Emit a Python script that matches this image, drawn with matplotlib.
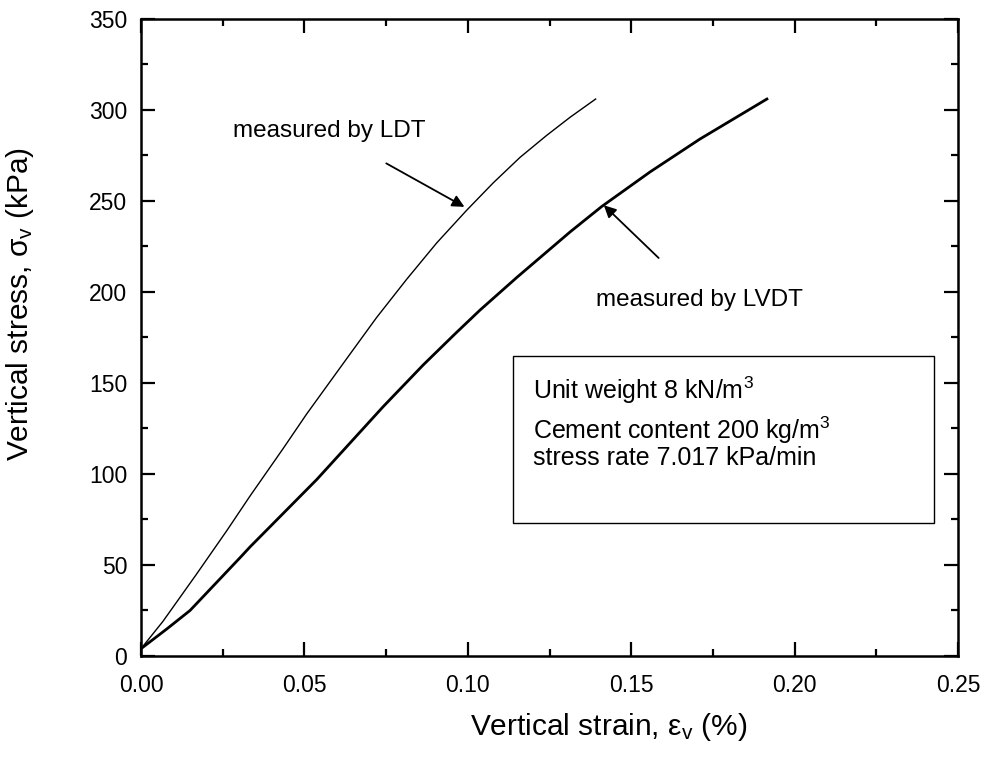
import matplotlib
matplotlib.use('Agg')
import matplotlib.pyplot as plt
from matplotlib.ticker import MultipleLocator, FormatStrFormatter

plt.rcParams['font.family'] = ['Liberation Sans', 'DejaVu Sans']
plt.rcParams['mathtext.fontset'] = 'custom'
plt.rcParams['mathtext.rm'] = 'Liberation Sans'
plt.rcParams['mathtext.it'] = 'Liberation Sans:italic'

# strain (%) / stress (kPa)
ldt_strain = [0.0, 0.0067, 0.017, 0.0263, 0.0334, 0.0435, 0.0507, 0.0640, 0.0721,
              0.0813, 0.0905, 0.0997, 0.1078, 0.1160, 0.1241, 0.1313, 0.1391]
ldt_stress = [4, 19, 45, 69, 88, 114, 133, 166, 186,
              207, 227, 245, 260, 274, 286, 296, 306]

lvdt_strain = [0.0, 0.008, 0.015, 0.0303, 0.0334, 0.0538, 0.0741, 0.0864, 0.0961,
               0.1037, 0.115, 0.1313, 0.141, 0.1558, 0.171, 0.1915]
lvdt_stress = [4, 15, 25, 54, 60, 97, 137, 160, 177,
               190, 208, 233, 247, 266, 284, 306]

fig = plt.figure(figsize=(9.98, 7.58), dpi=100)
ax = fig.add_axes([0.1413, 0.1346, 0.8187, 0.8404])

ax.plot(ldt_strain, ldt_stress, '-', color='black', lw=1.0)
ax.plot(lvdt_strain, lvdt_stress, '-', color='black', lw=2.0)

ax.set_xlim(0, 0.25)
ax.set_ylim(0, 350)
ax.xaxis.set_major_locator(MultipleLocator(0.05))
ax.xaxis.set_minor_locator(MultipleLocator(0.025))
ax.yaxis.set_major_locator(MultipleLocator(50))
ax.yaxis.set_minor_locator(MultipleLocator(25))
ax.xaxis.set_major_formatter(FormatStrFormatter('%.2f'))
ax.tick_params(which='both', direction='in', top=True, right=True, width=1.6,
               labelsize=16.5)
ax.tick_params(axis='x', pad=13)
ax.tick_params(axis='y', pad=10)
ax.tick_params(which='major', length=10)
ax.tick_params(which='minor', length=5)
for s in ax.spines.values():
    s.set_linewidth(1.8)

ax.set_xlabel('Vertical strain, ε$_\\mathrm{v}$ (%)', fontsize=21.5, va='center')
ax.set_ylabel('Vertical stress, σ$_\\mathrm{v}$ (kPa)', fontsize=21.5, va='center')
ax.xaxis.set_label_coords(0.572, -0.111)
ax.yaxis.set_label_coords(-0.148, 0.553)

ax.annotate('', xy=(0.0997, 246), xytext=(0.0743, 271.4),
            arrowprops=dict(arrowstyle='-|>', color='black', lw=1.3, mutation_scale=18))
ax.annotate('', xy=(0.141, 248.7), xytext=(0.159, 217.6),
            arrowprops=dict(arrowstyle='-|>', color='black', lw=1.3, mutation_scale=18))
ax.text(0.0282, 288.5, 'measured by LDT', fontsize=17.5, va='center', ha='left')
ax.text(0.1392, 195.6, 'measured by LVDT', fontsize=17.5, va='center', ha='left')

ax.add_patch(plt.Rectangle((0.1139, 73), 0.1288, 91.8, fill=False, lw=1.0,
                           edgecolor='black'))
ax.text(0.1200, 146, 'Unit weight 8 kN/m$^3$', fontsize=18, va='center')
ax.text(0.1200, 124, 'Cement content 200 kg/m$^3$', fontsize=18, va='center')
ax.text(0.1200, 108.8, 'stress rate 7.017 kPa/min', fontsize=18, va='center')

fig.savefig('out.png', dpi=100)
